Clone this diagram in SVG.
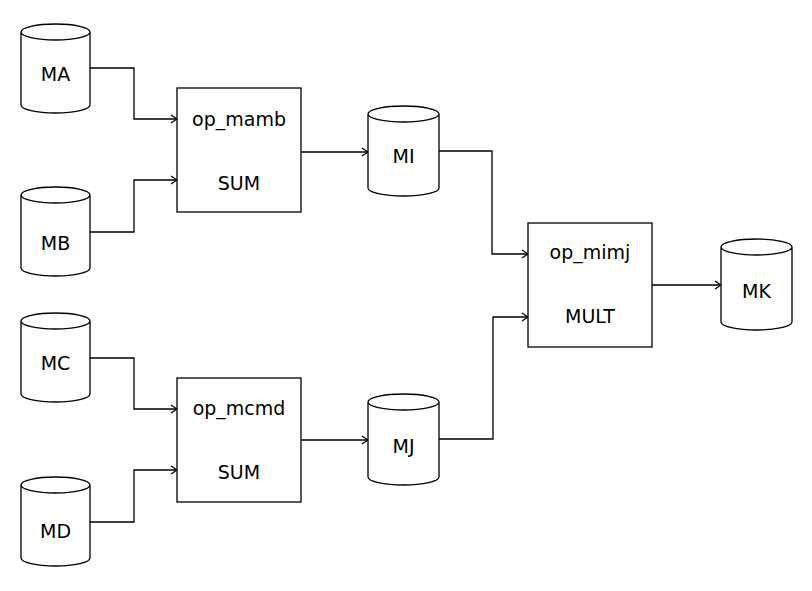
<svg xmlns="http://www.w3.org/2000/svg" width="812" height="591" viewBox="0 0 812 591">
<defs>
<style>
.shape{fill:#fff;stroke:#000;stroke-width:1.3}
.edge{fill:none;stroke:#000;stroke-width:1.3}
text{font-family:"DejaVu Sans",Verdana,sans-serif;font-size:19px;fill:#000;text-anchor:middle}
</style>
<marker id="arr" viewBox="0 0 10 10" refX="9" refY="5" markerWidth="10" markerHeight="10" markerUnits="userSpaceOnUse" orient="auto">
<path d="M3,1 L9,5 L3,9" fill="none" stroke="#000" stroke-width="1.3"/>
</marker>
</defs>
<rect width="812" height="591" fill="#fff"/>
<g id="connectors">
<path class="edge" d="M90,68 H134 V119 H177" marker-end="url(#arr)"/>
<path class="edge" d="M90,232 H134 V180 H177" marker-end="url(#arr)"/>
<path class="edge" d="M301,152 H368" marker-end="url(#arr)"/>
<path class="edge" d="M439,151 H492 V254 H528" marker-end="url(#arr)"/>
<path class="edge" d="M90,358 H134 V409 H177" marker-end="url(#arr)"/>
<path class="edge" d="M90,522 H134 V470 H177" marker-end="url(#arr)"/>
<path class="edge" d="M301,440 H368" marker-end="url(#arr)"/>
<path class="edge" d="M439,439 H493 V317 H528" marker-end="url(#arr)"/>
<path class="edge" d="M652,285 H721" marker-end="url(#arr)"/>
</g>
<g id="MA">
<path class="shape" d="M21,32 a34.5,8 0 0 1 69,0 v73 a34.5,8 0 0 1 -69,0 z M21,32 a34.5,8 0 0 0 69,0"/>
<text x="55.5" y="81">MA</text>
</g>
<g id="MB">
<path class="shape" d="M21,195 a34.5,8 0 0 1 69,0 v73 a34.5,8 0 0 1 -69,0 z M21,195 a34.5,8 0 0 0 69,0"/>
<text x="55.5" y="250">MB</text>
</g>
<g id="MC">
<path class="shape" d="M21,321 a34.5,8 0 0 1 69,0 v73 a34.5,8 0 0 1 -69,0 z M21,321 a34.5,8 0 0 0 69,0"/>
<text x="55.5" y="370">MC</text>
</g>
<g id="MD">
<path class="shape" d="M21,485 a34.5,8 0 0 1 69,0 v73 a34.5,8 0 0 1 -69,0 z M21,485 a34.5,8 0 0 0 69,0"/>
<text x="55.5" y="538">MD</text>
</g>
<g id="op_mamb">
<rect class="shape" x="177" y="88" width="124" height="124"/>
<text x="239" y="126">op_mamb</text>
<text x="239" y="190">SUM</text>
</g>
<g id="op_mcmd">
<rect class="shape" x="177" y="378" width="124" height="124"/>
<text x="239" y="415">op_mcmd</text>
<text x="239" y="479">SUM</text>
</g>
<g id="MI">
<path class="shape" d="M368,114 a35.5,8 0 0 1 71,0 v74 a35.5,8 0 0 1 -71,0 z M368,114 a35.5,8 0 0 0 71,0"/>
<text x="403.5" y="163">MI</text>
</g>
<g id="MJ">
<path class="shape" d="M368,402 a35.5,8 0 0 1 71,0 v75 a35.5,8 0 0 1 -71,0 z M368,402 a35.5,8 0 0 0 71,0"/>
<text x="403.5" y="453">MJ</text>
</g>
<g id="op_mimj">
<rect class="shape" x="528" y="223" width="124" height="124"/>
<text x="590" y="259">op_mimj</text>
<text x="590" y="323">MULT</text>
</g>
<g id="MK">
<path class="shape" d="M721,247 a35.5,8 0 0 1 71,0 v75 a35.5,8 0 0 1 -71,0 z M721,247 a35.5,8 0 0 0 71,0"/>
<text x="756.5" y="298">MK</text>
</g>
</svg>
